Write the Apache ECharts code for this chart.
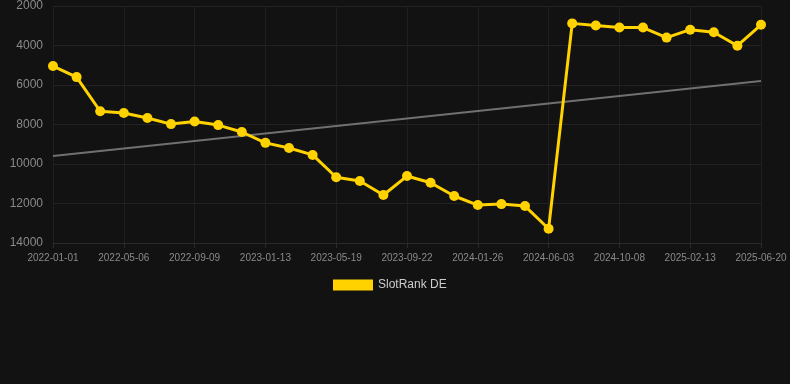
<!DOCTYPE html>
<html>
<head>
<meta charset="utf-8">
<script src="https://cdn.jsdelivr.net/npm/echarts@6/dist/echarts.min.js"></script>
<style>
html,body{margin:0;padding:0;background:#121212;}
#chart{width:790px;height:384px;}
</style>
</head>
<body>
<div id="chart"></div>
<script>
var categories = [
  '2022-01-01','2022-02-12','2022-03-25','2022-05-06','2022-06-17','2022-07-29',
  '2022-09-09','2022-10-21','2022-12-02','2023-01-13','2023-02-24','2023-04-07',
  '2023-05-19','2023-06-30','2023-08-11','2023-09-22','2023-11-03','2023-12-15',
  '2024-01-26','2024-03-08','2024-04-20','2024-06-03','2024-07-15','2024-08-26',
  '2024-10-08','2024-11-19','2024-12-31','2025-02-13','2025-03-27','2025-05-08',
  '2025-06-20'
];
var rankValues = [
  5040, 5600, 7330, 7420, 7670, 7980, 7850, 8030, 8380, 8930, 9190,
  9540, 10670, 10860, 11570, 10610, 10950, 11620, 12080, 12030, 12130,
  13280, 2880, 2990, 3090, 3090, 3600, 3200, 3330, 4010, 2950
];
var trendStart = 9600;
var trendEnd = 5800;
var yTicks = { min: 2000, max: 14000, interval: 2000 };
var seriesName = 'SlotRank DE';

var chart = echarts.init(document.getElementById('chart'));
var font = 'Liberation Sans, Arial, sans-serif';
chart.setOption({
  backgroundColor: '#121212',
  animation: false,
  grid: { left: 53, right: 29, top: 6, bottom: 141, containLabel: false },
  legend: {
    data: [seriesName],
    top: 274,
    left: 328,
    itemWidth: 40,
    itemHeight: 11,
    icon: 'rect',
    textStyle: { color: '#cccccc', fontSize: 12, fontFamily: font }
  },
  xAxis: {
    type: 'category',
    data: categories,
    boundaryGap: false,
    axisLine: { onZero: false, lineStyle: { color: '#2a2a2a' } },
    axisTick: { show: true, alignWithLabel: true, interval: 2, lineStyle: { color: '#2a2a2a' } },
    axisLabel: { interval: 2, color: '#8a8a8a', fontSize: 10, margin: 10, fontFamily: font },
    splitLine: { show: true, interval: 2, lineStyle: { color: '#1f1f1f' } }
  },
  yAxis: {
    type: 'value',
    inverse: true,
    min: yTicks.min,
    max: yTicks.max,
    interval: yTicks.interval,
    axisLine: { show: false },
    axisTick: { show: false },
    axisLabel: { color: '#8a8a8a', fontSize: 12, margin: 10, fontFamily: font,
      formatter: function (v) { return String(v); } },
    splitLine: { show: true, lineStyle: { color: '#222222' } }
  },
  series: [
    {
      name: seriesName,
      type: 'line',
      data: rankValues,
      symbol: 'circle',
      symbolSize: 10,
      itemStyle: { color: '#ffd200' },
      lineStyle: { color: '#ffd200', width: 3 },
      z: 3
    },
    {
      name: 'trend',
      type: 'line',
      data: [[categories[0], trendStart], [categories[categories.length - 1], trendEnd]],
      symbol: 'none',
      lineStyle: { color: '#707070', width: 2 },
      itemStyle: { color: '#707070' },
      z: 2
    }
  ]
});
</script>
</body>
</html>
